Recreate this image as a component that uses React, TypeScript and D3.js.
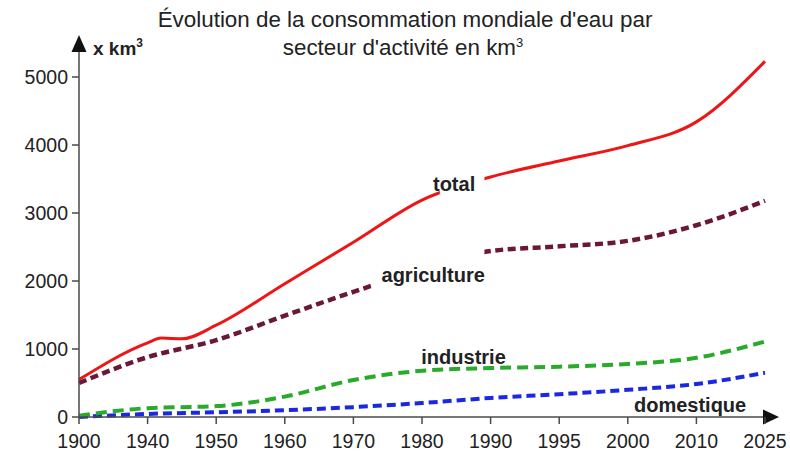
import React, { useEffect, useRef } from 'react';
import * as d3 from 'd3';

// x axis is not linear: each tick year gets the same spacing
const tickYears = [1900, 1940, 1950, 1960, 1970, 1980, 1990, 1995, 2000, 2010, 2025];
const yTicks = [0, 1000, 2000, 3000, 4000, 5000];

const totalYears = [1900, 1940, 1942, 1945, 1950, 1960, 1970, 1980, 1990, 1995, 2000, 2010, 2025];
const totalValues = [550, 1090, 1160, 1150, 1350, 1960, 2570, 3190, 3530, 3765, 3990, 4340, 5230];

const agriYears = [1900, 1940, 1950, 1960, 1970, 1990, 1995, 2000, 2010, 2025];
const agriValues = [500, 880, 1130, 1490, 1840, 2440, 2510, 2590, 2820, 3180];

const induYears = [1900, 1940, 1950, 1960, 1970, 1980, 1990, 1995, 2000, 2010, 2025];
const induValues = [20, 130, 160, 300, 545, 680, 720, 740, 780, 870, 1110];

const domYears = [1900, 1940, 1950, 1960, 1970, 1980, 1990, 1995, 2000, 2010, 2025];
const domValues = [0, 45, 70, 100, 145, 205, 280, 335, 400, 485, 650];

interface Series {
  name: string;
  years: number[];
  values: number[];
  color: string;
  width: number;
  dash: string | null;
  gap: [number, number] | null; // years hidden behind the label
  label: [number, number]; // label anchor in data units (year, value)
}

const series: Series[] = [
  { name: 'total', years: totalYears, values: totalValues, color: '#ee1515', width: 3, dash: null, gap: [1982.6, 1989.1], label: [1981.6, 3325] },
  { name: 'agriculture', years: agriYears, values: agriValues, color: '#6b1838', width: 4.5, dash: '8,4.5', gap: [1972.6, 1989.1], label: [1974.1, 1985] },
  { name: 'industrie', years: induYears, values: induValues, color: '#2aaa2a', width: 4, dash: '11,6', gap: null, label: [1979.9, 780] },
  { name: 'domestique', years: domYears, values: domValues, color: '#1a28e0', width: 4, dash: '9,5', gap: null, label: [2000.9, 75] },
];

const FONT = '"Liberation Sans", Arial, sans-serif';

const Chart: React.FC<{ width?: number; height?: number }> = ({ width = 790, height = 457 }) => {
  const svgRef = useRef<SVGSVGElement>(null);

  useEffect(() => {
    if (!svgRef.current) return;
    const svg = d3.select(svgRef.current);
    svg.selectAll('*').remove();

    const x0 = 79, x1 = 765;
    const step = (x1 - x0) / (tickYears.length - 1);
    const x = d3.scaleLinear()
      .domain(tickYears)
      .range(tickYears.map((_, i) => x0 + i * step));
    const y = d3.scaleLinear().domain([0, 5000]).range([417, 77]);

    svg.append('rect').attr('width', width).attr('height', height).attr('fill', '#fff');

    // title
    const title = svg.append('text')
      .attr('text-anchor', 'middle')
      .style('font-family', FONT)
      .style('font-size', '22.4px')
      .attr('fill', '#222');
    title.append('tspan').attr('x', 405).attr('y', 27).text("Évolution de la consommation mondiale d'eau par");
    const l2 = title.append('tspan').attr('x', 403).attr('y', 55);
    l2.append('tspan').text("secteur d'activité en km");
    l2.append('tspan').attr('dy', -8).style('font-size', '13px').text('3');

    // clip paths for the gaps around labels
    const defs = svg.append('defs');
    series.forEach((s, i) => {
      const cp = defs.append('clipPath').attr('id', `clip-${i}`);
      if (s.gap) {
        cp.append('rect').attr('x', 0).attr('y', 0).attr('width', x(s.gap[0])).attr('height', height);
        cp.append('rect').attr('x', x(s.gap[1])).attr('y', 0).attr('width', width - x(s.gap[1])).attr('height', height);
      } else {
        cp.append('rect').attr('x', 0).attr('y', 0).attr('width', width).attr('height', height);
      }
    });

    const line = d3.line<[number, number]>()
      .x(d => x(d[0]))
      .y(d => y(d[1]))
      .curve(d3.curveMonotoneX);

    // draw bottom series first
    [...series].reverse().forEach(s => {
      const i = series.indexOf(s);
      const pts = s.years.map((yr, k) => [yr, s.values[k]] as [number, number]);
      svg.append('path')
        .attr('d', line(pts))
        .attr('fill', 'none')
        .attr('stroke', s.color)
        .attr('stroke-width', s.width)
        .attr('stroke-dasharray', s.dash)
        .attr('clip-path', `url(#clip-${i})`);
    });

    // series labels
    svg.selectAll('text.lbl')
      .data(series)
      .enter().append('text')
      .attr('class', 'lbl')
      .attr('x', d => x(d.label[0]))
      .attr('y', d => y(d.label[1]))
      .style('font-family', FONT)
      .style('font-size', '20px')
      .style('font-weight', 'bold')
      .attr('fill', '#222')
      .text(d => d.name);

    const axisColor = '#4a4a4a';

    // y axis
    const yTop = y(5000) - 25;
    svg.append('line')
      .attr('x1', x0).attr('x2', x0)
      .attr('y1', y(0)).attr('y2', yTop)
      .attr('stroke', axisColor).attr('stroke-width', 1.5);
    svg.append('path')
      .attr('d', `M${x0},${yTop - 17}L${x0 - 7.5},${yTop}L${x0 + 7.5},${yTop}Z`)
      .attr('fill', '#111');
    const yt = svg.selectAll('g.yt').data(yTicks).enter().append('g').attr('class', 'yt');
    yt.append('line')
      .attr('x1', x0 - 7).attr('x2', x0)
      .attr('y1', d => y(d)).attr('y2', d => y(d))
      .attr('stroke', axisColor).attr('stroke-width', 1.5);
    yt.append('text')
      .attr('x', x0 - 11)
      .attr('y', d => y(d))
      .attr('dy', '0.36em')
      .attr('text-anchor', 'end')
      .style('font-family', FONT)
      .style('font-size', '19.5px')
      .attr('fill', '#222')
      .text(d => String(d));

    const unit = svg.append('text')
      .attr('x', x0 + 14).attr('y', yTop + 3)
      .style('font-family', FONT)
      .style('font-size', '19px')
      .style('font-weight', 'bold')
      .attr('fill', '#222');
    unit.append('tspan').text('x km');
    unit.append('tspan').attr('dy', -8).style('font-size', '12px').text('3');

    // x axis
    const xEnd = x1 - 2;
    svg.append('line')
      .attr('x1', x0).attr('x2', xEnd)
      .attr('y1', y(0)).attr('y2', y(0))
      .attr('stroke', axisColor).attr('stroke-width', 1.5);
    svg.append('path')
      .attr('d', `M${xEnd + 16},${y(0)}L${xEnd},${y(0) - 7.5}L${xEnd},${y(0) + 7.5}Z`)
      .attr('fill', '#111');
    const xt = svg.selectAll('g.xt').data(tickYears).enter().append('g').attr('class', 'xt');
    xt.append('line')
      .attr('x1', d => x(d)).attr('x2', d => x(d))
      .attr('y1', y(0)).attr('y2', y(0) + 7)
      .attr('stroke', axisColor).attr('stroke-width', 1.5);
    xt.append('text')
      .attr('x', d => x(d))
      .attr('y', 448)
      .attr('text-anchor', 'middle')
      .style('font-family', FONT)
      .style('font-size', '19.5px')
      .attr('fill', '#222')
      .text(d => String(d));
  }, [width, height]);

  return (
    <svg
      ref={svgRef}
      width={width}
      height={height}
      style={{ position: 'absolute', left: 0, top: 0, display: 'block' }}
    />
  );
};

export default function App() {
  return <Chart />;
}
